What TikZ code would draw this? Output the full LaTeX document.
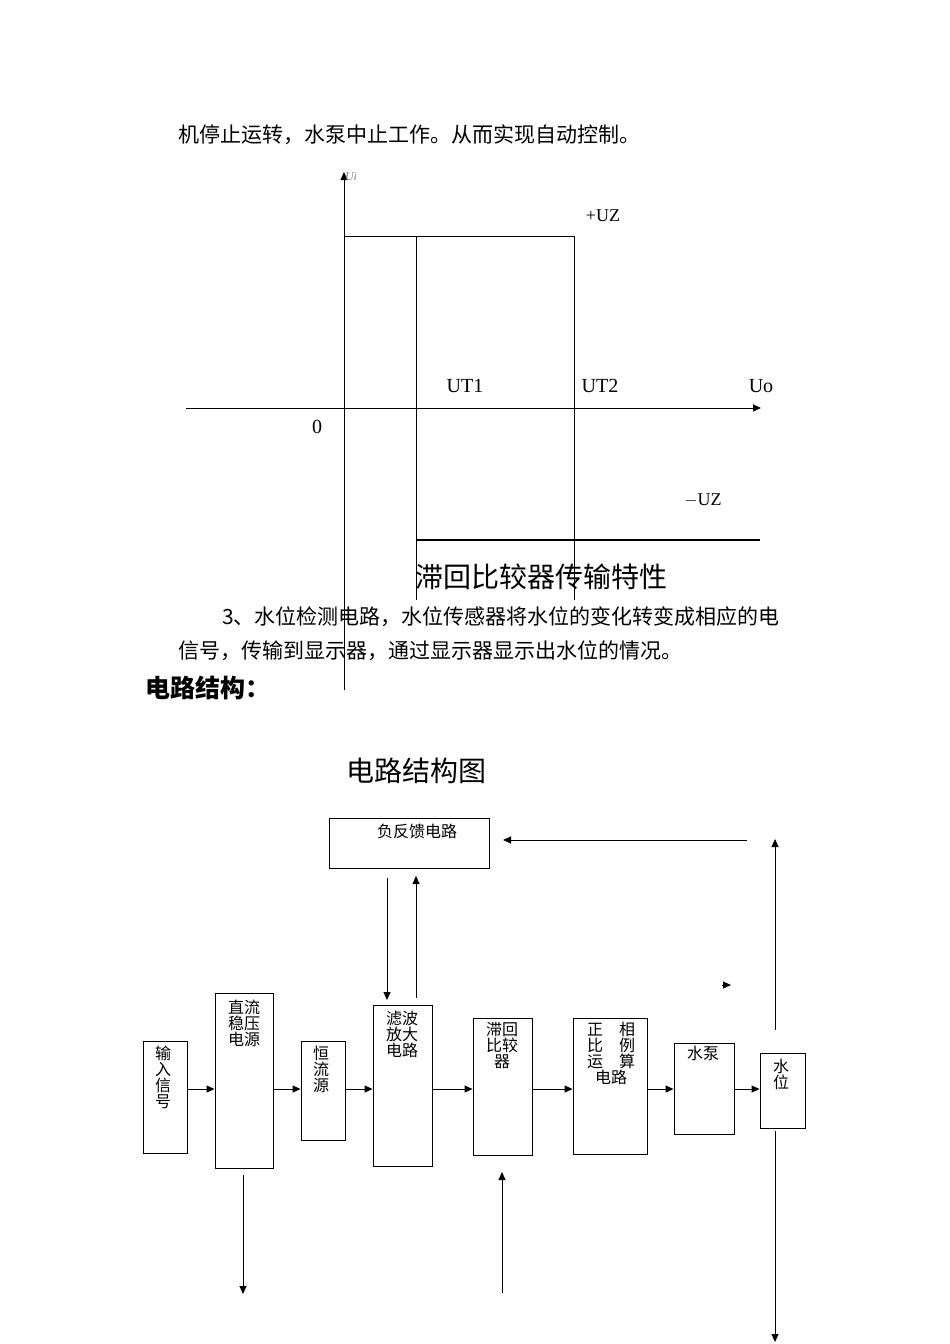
\documentclass[tikz,border=0pt]{standalone}
\usepackage{fontspec}
\setmainfont{Liberation Serif}
\newfontfamily\cjk{Noto Sans CJK SC}
\usetikzlibrary{arrows.meta}
\begin{document}
\begin{tikzpicture}[x=1pt,y=-1pt,
  blk/.style={draw,line width=0.9pt,inner sep=0pt},
  btxt/.style={font=\cjk\fontsize{16}{16}\selectfont,align=center,anchor=north,inner sep=0pt},
  ln/.style={line width=0.9pt},
  arr/.style={line width=0.9pt,-{Triangle[length=8pt,width=7pt]}},
  body/.style={font=\cjk\fontsize{21}{24}\selectfont,anchor=west,inner sep=0pt},
  lab/.style={font=\fontsize{20}{20}\selectfont,inner sep=0pt}]
\useasboundingbox (0,0) rectangle (950,1344);
% text
\node[body] (t1) at (178,135) {机停止运转，水泵中止工作。从而实现自动控制。};
\node[body] (t2) at (222,617) {3、水位检测电路，水位传感器将水位的变化转变成相应的电};
\node[body] (t3) at (178,651) {信号，传输到显示器，通过显示器显示出水位的情况。};
\node[font=\cjk\bfseries\fontsize{25}{25}\selectfont,anchor=west,inner sep=0pt] (t4) at (145,688) {电路结构：};
\node[font=\cjk\fontsize{28}{28}\selectfont,inner sep=0pt] (t5) at (541,577) {滞回比较器传输特性};
\node[font=\cjk\fontsize{28}{28}\selectfont,anchor=west,inner sep=0pt] (t6) at (346,771) {电路结构图};
% graph
\coordinate (ya) at (344,690); \coordinate (yb) at (344,172);
\coordinate (xa) at (186,408); \coordinate (xb) at (761,408);
\draw[line width=1pt,-{Triangle[length=8pt,width=7pt]}] (ya) -- (yb);
\draw[line width=1pt,-{Triangle[length=8pt,width=7pt]}] (xa) -- (xb);
\draw[ln] (344,236) -- (574,236);
\draw[ln] (416,236) -- (416,600);
\draw[ln] (574,236) -- (574,600);
\draw[line width=1.2pt] (416,540) -- (760,540);
\node[font=\itshape\fontsize{12}{12}\selectfont,text=gray,inner sep=0pt] (ui) at (351,177) {Ui};
\node[lab,font=\fontsize{18}{18}\selectfont] (puz) at (603,216) {+UZ};
\node[lab] (ut1) at (465,386) {UT1};
\node[lab] (ut2) at (600,386) {UT2};
\node[lab] (uo) at (761,386) {Uo};
\node[lab] (zero) at (317,427) {0};
\node[lab,font=\fontsize{18}{18}\selectfont] (muz) at (703,500) {$-$UZ};
% blocks
\node[blk,minimum width=160pt,minimum height=50pt] (fb) at (409,843) {};
\node[btxt] at (417,824) {负反馈电路};
\node[blk,minimum width=44pt,minimum height=112pt] (in) at (165,1097) {};
\node[btxt] at (163,1046) {输\\入\\信\\号};
\node[blk,minimum width=58pt,minimum height=175pt] (dc) at (244,1080.5) {};
\node[btxt] at (244,1000) {直流\\稳压\\电源};
\node[blk,minimum width=44pt,minimum height=99pt] (cc) at (323,1090.5) {};
\node[btxt] at (321,1046) {恒\\流\\源};
\node[blk,minimum width=59pt,minimum height=161pt] (flt) at (402.5,1085.5) {};
\node[btxt] at (402,1011) {滤波\\放大\\电路};
\node[blk,minimum width=59pt,minimum height=137pt] (hys) at (502.5,1086.5) {};
\node[btxt] at (502,1022) {滞回\\比较\\器};
\node[blk,minimum width=74pt,minimum height=136pt] (op) at (610,1086) {};
\node[btxt] at (611,1022) {正\hspace{16pt}相\\比\hspace{16pt}例\\运\hspace{16pt}算\\电路\hspace{16pt}};
\node[blk,minimum width=60pt,minimum height=91pt] (pump) at (704,1088.5) {};
\node[btxt] at (703,1046) {水泵};
\node[blk,minimum width=45pt,minimum height=75pt] (lvl) at (782.5,1090.5) {};
\node[btxt] at (781,1059) {水\\位};
% arrows
\draw[arr] (in.east |- 0,1089) -- (dc.west |- 0,1089);
\draw[arr] (dc.east |- 0,1089) -- (cc.west |- 0,1089);
\draw[arr] (cc.east |- 0,1089) -- (flt.west |- 0,1089);
\draw[arr] (flt.east |- 0,1089) -- (hys.west |- 0,1089);
\draw[arr] (hys.east |- 0,1089) -- (op.west |- 0,1089);
\draw[arr] (op.east |- 0,1089) -- (pump.west |- 0,1089);
\draw[arr] (pump.east |- 0,1089) -- (lvl.west |- 0,1089);
\coordinate (fbr) at (747,840);
\draw[arr] (fbr) -- (503,840);
\coordinate (d1) at (387,878);
\draw[arr] (d1) -- (387,1000);
\coordinate (u1) at (416,998);
\draw[arr] (u1) -- (416,876);
\coordinate (dcb) at (243,1175); \coordinate (dce) at (243,1294);
\draw[arr] (dcb) -- (dce);
\coordinate (hb) at (502,1293); \coordinate (he) at (502,1172);
\draw[arr] (hb) -- (he);
\coordinate (la) at (775,1030); \coordinate (lb) at (775,839);
\draw[arr] (la) -- (lb);
\coordinate (lc) at (775,1131); \coordinate (ld) at (775,1342);
\draw[arr] (lc) -- (ld);
\coordinate (sa) at (722,985); \coordinate (sb) at (731,985);
\draw[arr] (sa) -- (sb);
\end{tikzpicture}
\end{document}
